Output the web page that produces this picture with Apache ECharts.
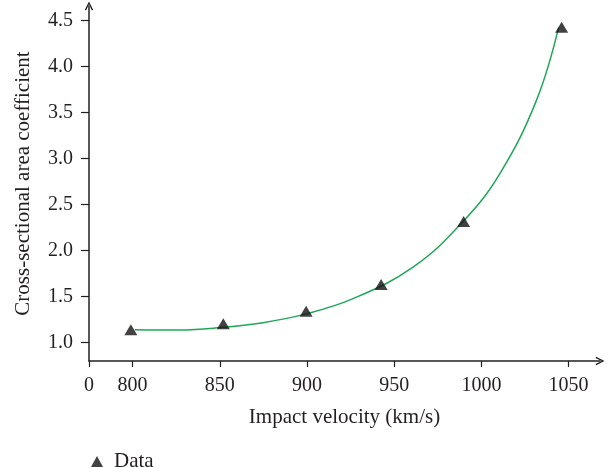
<!DOCTYPE html>
<html>
<head>
<meta charset="utf-8">
<script src="https://cdn.jsdelivr.net/npm/echarts@6/dist/echarts.min.js"></script>
<style>html,body{margin:0;padding:0;background:#fff}#c{width:613px;height:468px}</style>
</head>
<body>
<div id="c"></div>
<script>
// Measured data points (impact velocity km/s, cross-sectional area coefficient)
var dataX = [799, 852, 899.5, 942.5, 989.8, 1046];
var dataY = [1.14, 1.205, 1.34, 1.632, 2.316, 4.43];
// Fitted curve
var fitX = [801.2, 827, 850, 874.8, 897.7, 926.4, 960.8, 989.5, 1010.5, 1031.5, 1044.3];
var fitY = [1.141, 1.137, 1.163, 1.217, 1.304, 1.478, 1.821, 2.317, 2.835, 3.631, 4.427];
// Axis ticks
var xTicks = [775, 800, 850, 900, 950, 1000, 1050];
var xTickLabels = ['0', '800', '850', '900', '950', '1000', '1050'];
var yTicks = [1.0, 1.5, 2.0, 2.5, 3.0, 3.5, 4.0, 4.5];

var textColor = '#231f20';
var markColor = '#151213';
var font = 'Liberation Serif';
var arrow = 'path://M0,10 L5,0 L10,10 L8.5,10.8 L5,3.4 L1.5,10.8 Z';

var chart = echarts.init(document.getElementById('c'));
chart.setOption({
  animation: false,
  textStyle: { fontFamily: font, color: textColor },
  grid: { left: 89, right: 13, top: 6, bottom: 107 },
  legend: {
    left: 86, top: 446,
    data: [{ name: 'Data', icon: 'triangle' }],
    itemWidth: 12, itemHeight: 11, itemGap: 10,
    textStyle: { fontFamily: font, fontSize: 21, color: textColor, padding: [0, 0, 0, 6] }
  },
  xAxis: {
    type: 'value', min: 775, max: 1068,
    name: 'Impact velocity (km/s)', nameLocation: 'middle', nameGap: 46,
    nameTextStyle: { fontFamily: font, fontSize: 21, color: textColor },
    splitLine: { show: false },
    axisLine: { lineStyle: { color: textColor, width: 1.5 }, symbol: ['none', arrow], symbolSize: [12, 9] },
    axisTick: { show: true, length: 6, lineStyle: { color: textColor, width: 1.2 }, customValues: xTicks },
    axisLabel: {
      customValues: xTicks, margin: 15, fontFamily: font, fontSize: 20, color: textColor,
      formatter: function (v) { var i = xTicks.indexOf(v); return i >= 0 ? xTickLabels[i] : ''; }
    }
  },
  yAxis: {
    type: 'value', min: 0.8, max: 4.66,
    name: 'Cross-sectional area coefficient', nameLocation: 'middle', nameGap: 55, nameRotate: 90,
    nameTextStyle: { fontFamily: font, fontSize: 21, color: textColor },
    splitLine: { show: false },
    axisLine: { show: true, lineStyle: { color: textColor, width: 1.5 }, symbol: ['none', arrow], symbolSize: [12, 9] },
    axisTick: { show: true, length: 8, lineStyle: { color: textColor, width: 1.2 }, customValues: yTicks },
    axisLabel: {
      customValues: yTicks, margin: 16, fontFamily: font, fontSize: 20, color: textColor,
      formatter: function (v) { return v.toFixed(1); }
    }
  },
  series: [
    {
      name: 'Fit', type: 'line', smooth: 0.4, showSymbol: false, silent: true,
      data: fitX.map(function (x, i) { return [x, fitY[i]]; }),
      lineStyle: { color: '#1fa659', width: 1.5 }, z: 2
    },
    {
      name: 'Data', type: 'scatter', symbol: 'triangle', symbolSize: [13, 11],
      data: dataX.map(function (x, i) { return [x, dataY[i]]; }),
      itemStyle: { color: markColor }, z: 3
    }
  ]
});
</script>
</body>
</html>
